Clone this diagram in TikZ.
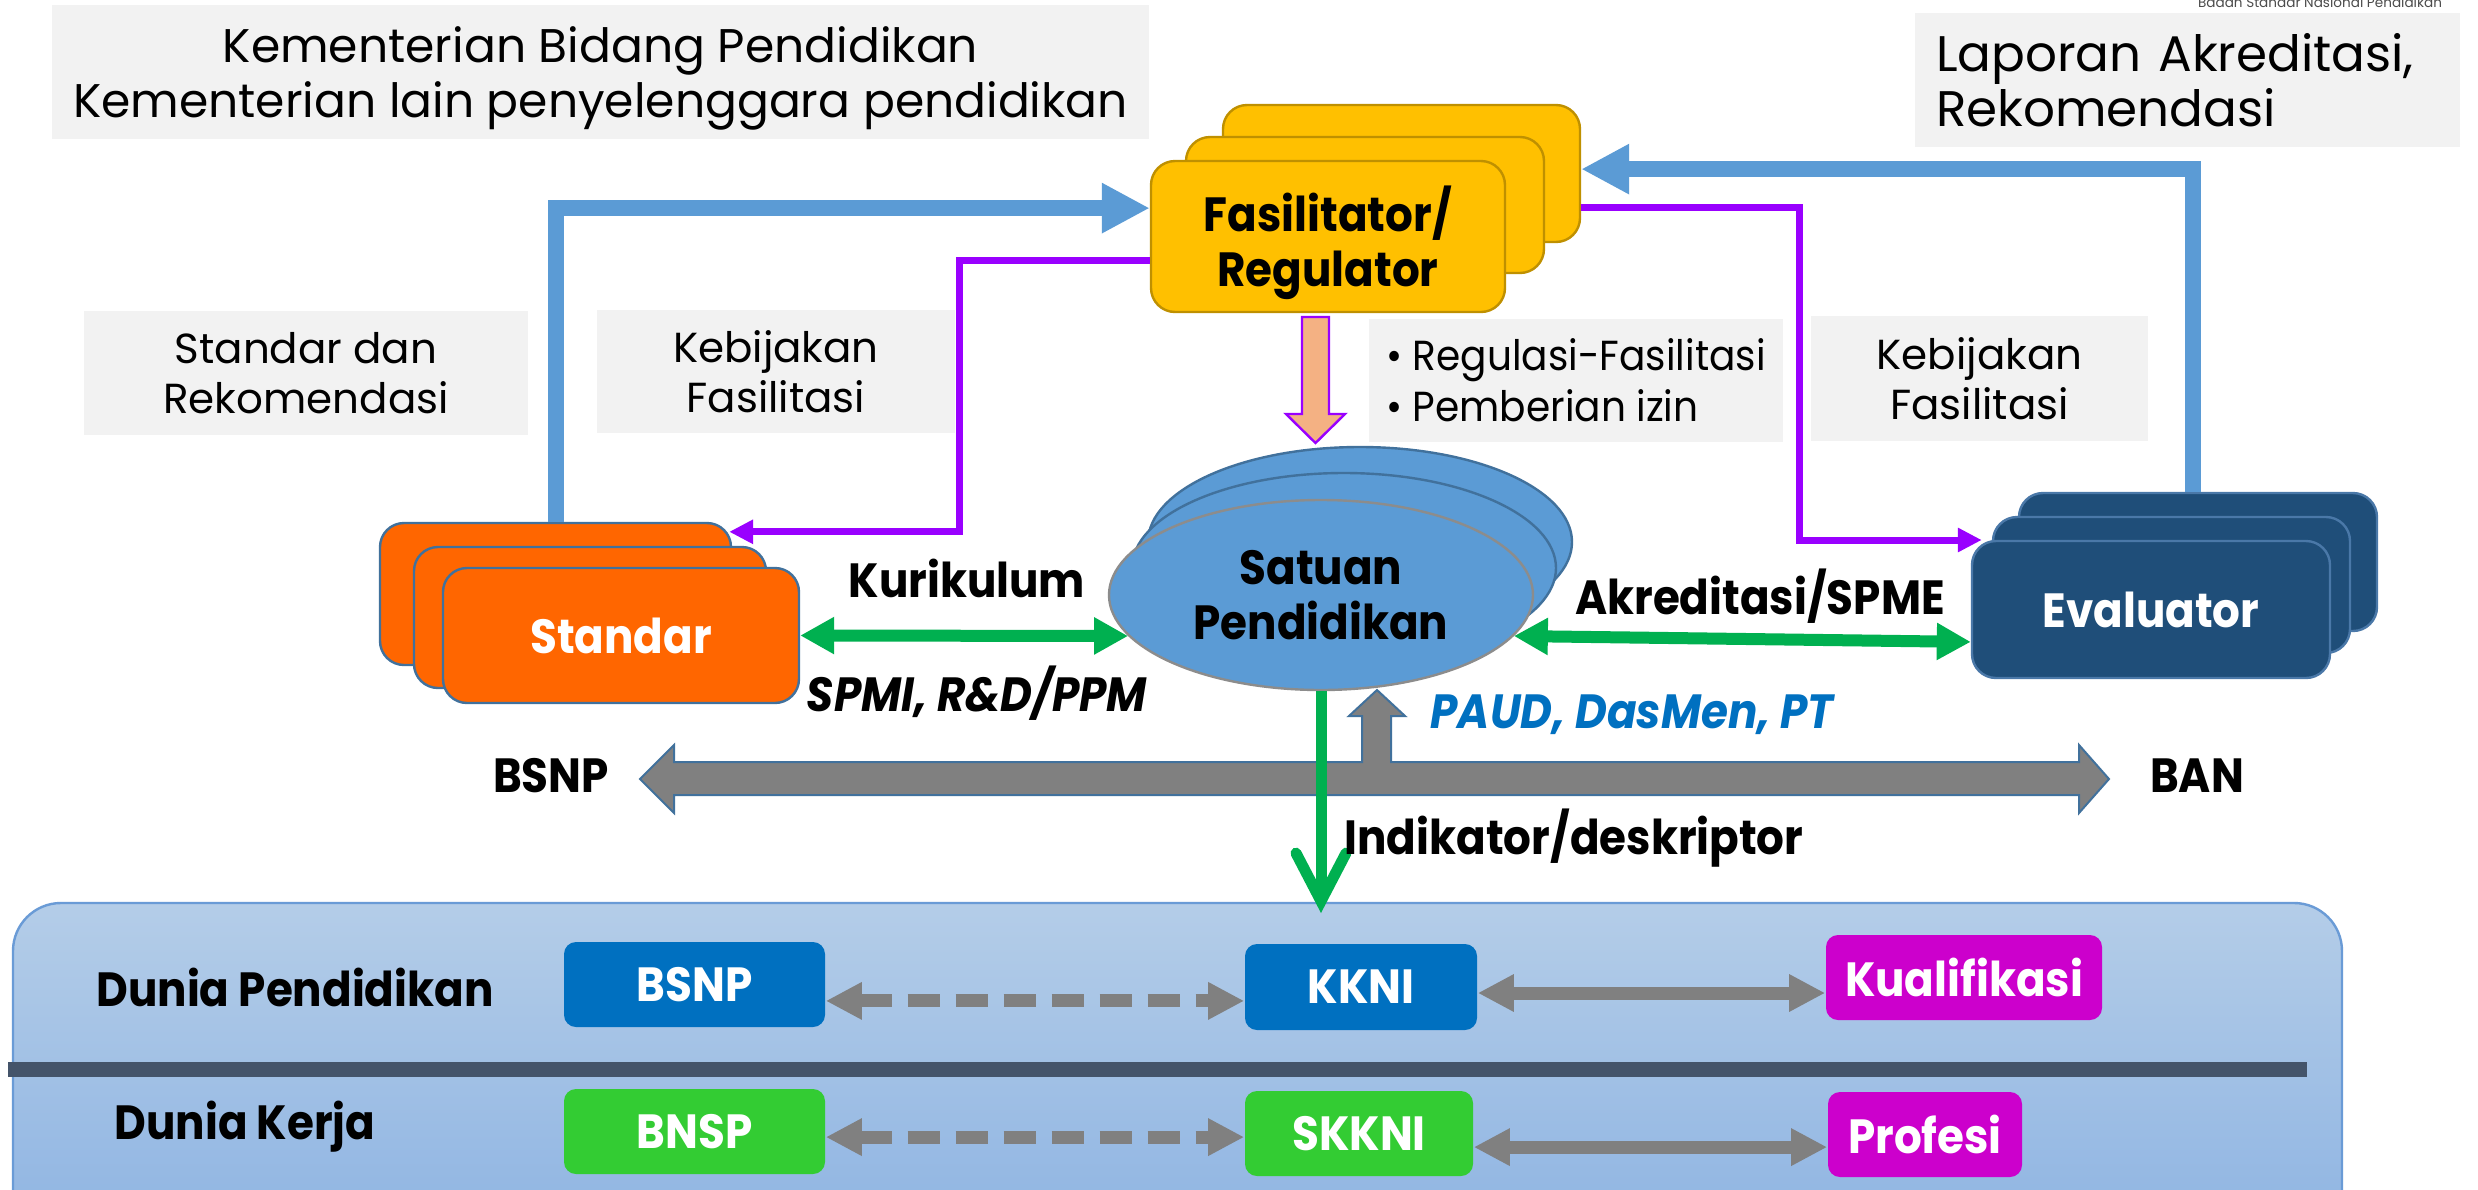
\documentclass[tikz,border=0pt]{standalone}
\usepackage{fontspec}
\setmainfont{Poppins}[BoldFeatures={FakeStretch=0.91},BoldItalicFeatures={FakeStretch=0.91}]
\usetikzlibrary{arrows.meta,shapes.geometric}

\definecolor{cFasY}{HTML}{FFC000}
\definecolor{cFasD}{HTML}{BF9000}
\definecolor{cStd}{HTML}{FF6600}
\definecolor{cBdr}{HTML}{41719C}
\definecolor{cEv}{HTML}{1F4E79}
\definecolor{cEvD}{HTML}{4A78A8}
\definecolor{cSat}{HTML}{5B9BD5}
\definecolor{cBlueA}{HTML}{5B9BD5}
\definecolor{cPur}{HTML}{9900FF}
\definecolor{cGrn}{HTML}{00B050}
\definecolor{cNote}{HTML}{F2F2F2}
\definecolor{cGray}{HTML}{808080}
\definecolor{cSalmon}{HTML}{F4B183}
\definecolor{cBlueT}{HTML}{0070C0}
\definecolor{cBar}{HTML}{44546A}
\definecolor{cPnlT}{HTML}{B4CDE8}
\definecolor{cPnlB}{HTML}{8DB3E2}
\definecolor{cPnlD}{HTML}{6A9BD6}
\definecolor{cMag}{HTML}{CC00CC}
\definecolor{cLGrn}{HTML}{33CC33}
\definecolor{cKB}{HTML}{0070C0}

\begin{document}
\begin{tikzpicture}[x=0.25pt,y=-0.25pt,
  every node/.style={inner sep=0pt},
  card/.style={rounded corners=6pt, line width=0.6pt, inner sep=0pt},
  fascard/.style={card, fill=cFasY, draw=cFasD},
  stdcard/.style={card, fill=cStd, draw=cBdr},
  evcard/.style={card, fill=cEv, draw=cEvD},
  satell/.style={ellipse, fill=cSat, draw=cBdr, line width=0.6pt, minimum width=106pt, minimum height=47.5pt, inner sep=0pt},
  gnote/.style={fill=cNote, inner sep=0pt, align=center, font=\fontsize{10.5}{12.5}\selectfont},
  blbl/.style={font=\fontsize{12}{13.75}\selectfont\bfseries, align=center},
  wlbl/.style={blbl, text=white},
  smbox/.style={rounded corners=3pt, inner sep=0pt, text=white, font=\fontsize{12}{13.75}\selectfont\bfseries},
  bluearr/.style={draw=cBlueA, line width=4pt, -{Triangle[length=12pt,width=11.75pt]}},
  purarr/.style={draw=cPur, line width=1.75pt, -{Triangle[length=6pt,width=5.75pt]}},
  grnarr/.style={draw=cGrn, line width=3pt, {Triangle[length=8.5pt,width=8.75pt]}-{Triangle[length=8.5pt,width=8.75pt]}},
  grayarr/.style={draw=cGray, line width=3.25pt, {Triangle[length=9pt,width=8.75pt]}-{Triangle[length=9pt,width=8.75pt]}},
  dashgray/.style={grayarr, dash pattern=on 8pt off 4pt}
]
\clip (0,0) rectangle (2478,1190);
\fill[white] (0,0) rectangle (2478,1190);

% tiny header text
\node[anchor=base, text=black!70, font=\fontsize{3.4}{4}\selectfont] (hdr) at (2320,7) {Badan Standar Nasional Pendidikan};

% grey notes
\node[gnote, minimum width=274.25pt, minimum height=33.5pt, text depth=0pt, font=\fontsize{11.8}{13.75}\selectfont] (kem) at (600.5,72)
  {Kementerian Bidang Pendidikan\\Kementerian lain penyelenggara pendidikan};
\node[gnote, minimum width=136.25pt, minimum height=33.5pt, align=left, text width=125.75pt, font=\fontsize{12.5}{13.75}\selectfont] (lap) at (2187.5,80)
  {Laporan Akreditasi,\\Rekomendasi};
\node[gnote, minimum width=111pt, minimum height=31pt] (sdr) at (306,373) {Standar dan\\Rekomendasi};
\node[gnote, minimum width=89.5pt, minimum height=30.75pt] (kbl) at (776,371.5) {Kebijakan\\Fasilitasi};
\node[gnote, minimum width=103.5pt, minimum height=30.75pt, align=left, font=\fontsize{10.5}{12.75}\selectfont\addfontfeature{FakeStretch=0.93}] (reg) at (1576,380.5)
  {\textbullet\ Regulasi-Fasilitasi\\\textbullet\ Pemberian izin};
\node[gnote, minimum width=84.25pt, minimum height=31.25pt] (kbr) at (1979.5,378.5) {Kebijakan\\Fasilitasi};

% bottom panel
\node[rounded corners=12pt, top color=cPnlT, bottom color=cPnlB, draw=cPnlD, line width=0.6pt,
      minimum width=582.25pt, minimum height=86.75pt] (panel) at (1177.5,1076.5) {};
\fill[cBar] (8,1062) rectangle (2307,1077);

% Fasilitator stack
\node[fascard, minimum width=89.25pt, minimum height=34.25pt] (fasB) at (1401.5,173.5) {};
\node[fascard, minimum width=89.5pt, minimum height=34pt] (fasM) at (1365,205) {};
\node[fascard, minimum width=88.5pt, minimum height=37.75pt, blbl, text depth=0pt] (fas) at (1328,236.5) {Fasilitator/\\Regulator};

% Standar stack
\node[stdcard, minimum width=87.75pt, minimum height=35.5pt] (stdB) at (555.5,594) {};
\node[stdcard, minimum width=88pt, minimum height=35.25pt] (stdM) at (590,617.5) {};
\node[stdcard, minimum width=89pt, minimum height=33.75pt, wlbl] (std) at (621,635.5) {Standar};

% Evaluator stack
\node[evcard, minimum width=89.5pt, minimum height=34.5pt] (evB) at (2198,562) {};
\node[evcard, minimum width=89.25pt, minimum height=34pt] (evM) at (2171.5,585) {};
\node[evcard, minimum width=89.5pt, minimum height=34.25pt, wlbl] (ev) at (2151,609.5) {Evaluator};

% big grey arrow BSNP <-> BAN with up branch
\filldraw[fill=cGray, draw=cBdr, line width=0.5pt]
  (640,779) -- (674,745) -- (674,762) -- (1362,762) -- (1362,716) -- (1349,716) -- (1377,690)
  -- (1405,716) -- (1391,716) -- (1391,762) -- (2079,762) -- (2079,745) -- (2109,779)
  -- (2079,813) -- (2079,795) -- (674,795) -- (674,813) -- cycle;

% Satuan Pendidikan
\node[satell] (satB) at (1360,542) {};
\node[satell] (satM) at (1344,568) {};
\node[satell, draw=black!45, blbl] (sat) at (1321,595) {Satuan\\Pendidikan};

% orange block arrow
\coordinate (oa) at (1315.5,317);
\filldraw[fill=cSalmon, draw=cPur, line width=0.6pt]
  (oa) ++(-13.5,0) -- ++(27,0) -- ++(0,97) -- ++(16,0) -- ++(-29.5,29) -- ++(-29.5,-29) -- ++(16,0) -- cycle;

% connectors
\draw[bluearr] (stdB.north) |- ([yshift=7.1pt]fas.west);
\draw[purarr] ([yshift=-5.9pt]fas.west) -- ++(-190,0) |- ([shift={(-0.75pt,-2.5pt)}]stdB.north east);
\draw[bluearr] ([xshift=-1.25pt]evB.north) |- ([yshift=1.1pt]fasB.east);
\draw[purarr] ([yshift=-8.6pt]fasB.east) -- ++(218,0) |- ([shift={(-2.5pt,11.25pt)}]evM.west);
\draw[grnarr] (std.east) -- (sat.192);
\draw[grnarr] (sat.348) -- ([yshift=-8.1pt]ev.west);
\coordinate (gtip) at (1319,913);
\draw[draw=cGrn, line width=2.75pt, -{Straight Barb[length=12pt,width=12.5pt,line cap=round]}] (sat.south) -- (sat.south |- gtip);

% labels
\node[blbl] (kur) at (967,578) {Kurikulum};
\node[blbl, font=\fontsize{12}{13.75}\selectfont\bfseries\itshape] (spmi) at (977,693) {SPMI, R\&D/PPM};
\node[blbl] (akr) at (1760,596) {Akreditasi/SPME};
\node[blbl] (bsnpL) at (551,776) {BSNP};
\node[blbl] (ban) at (2197,776) {BAN};
\node[blbl, text=cBlueT, font=\fontsize{12}{13.75}\selectfont\bfseries\itshape] (paud) at (1632,715) {PAUD, DasMen, PT};
\node[blbl] (ind) at (1574,838) {Indikator/deskriptor};

% bottom content
\node[blbl] (dp) at (295,987) {Dunia Pendidikan};
\node[blbl] (dk) at (245,1127) {Dunia Kerja};
\node[smbox, fill=cKB, minimum width=65.25pt, minimum height=21.25pt] (bsnp) at (694.5,984.5) {BSNP};
\node[smbox, fill=cKB, minimum width=58pt, minimum height=21.5pt] (kkni) at (1361,987) {KKNI};
\node[smbox, fill=cMag, minimum width=69pt, minimum height=21.25pt] (kual) at (1964,977.5) {Kualifikasi};
\node[smbox, fill=cLGrn, minimum width=65.25pt, minimum height=21.25pt] (bnsp) at (694.5,1131.5) {BNSP};
\node[smbox, fill=cLGrn, minimum width=57pt, minimum height=21.25pt] (skkni) at (1359,1133.5) {SKKNI};
\node[smbox, fill=cMag, minimum width=48.5pt, minimum height=21.25pt] (prof) at (1925,1134.5) {Profesi};

\draw[dashgray] ([yshift=-4.1pt]bsnp.east) -- ([yshift=-4.1pt]bsnp.east -| kkni.west);
\draw[grayarr] ([yshift=-1.5pt]kkni.east) -- ([yshift=-1.5pt]kkni.east -| kual.west);
\draw[dashgray] ([yshift=-1.4pt]bnsp.east) -- ([yshift=-1.4pt]bnsp.east -| skkni.west);
\draw[grayarr] ([yshift=-3.4pt]skkni.east) -- ([yshift=-3.4pt]skkni.east -| prof.west);
\end{tikzpicture}
\end{document}
